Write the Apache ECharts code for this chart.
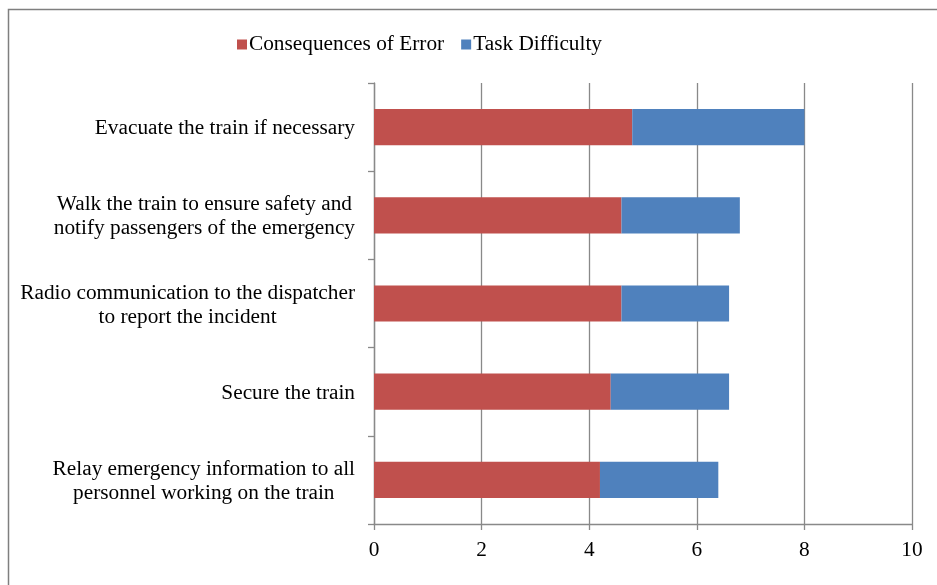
<!DOCTYPE html>
<html>
<head>
<meta charset="utf-8">
<script src="https://cdn.jsdelivr.net/npm/echarts@6/dist/echarts.min.js"></script>
<style>
  html, body { margin: 0; padding: 0; background: #ffffff; }
  #chart { width: 937px; height: 585px; }
</style>
</head>
<body>
<div id="chart"></div>
<script>
// Tasks, listed top to bottom
const tasks = [
  'Evacuate the train if necessary',
  'Walk the train to ensure safety and\nnotify passengers of the emergency',
  'Radio communication to the dispatcher\nto report the incident',
  'Secure the train',
  'Relay emergency information to all\npersonnel working on the train'
];
const consequencesOfError = [4.8, 4.6, 4.6, 4.4, 4.2];
const taskDifficulty = [3.2, 2.2, 2.0, 2.2, 2.2];
const xTicks = [0, 2, 4, 6, 8, 10];

const FONT = '"Liberation Serif", "Times New Roman", serif';
const FONT_SIZE = 21.3;
const AXIS_GRAY = '#898989';

const chart = echarts.init(document.getElementById('chart'), null, { renderer: 'canvas' });

chart.setOption({
  backgroundColor: '#ffffff',
  animation: false,
  graphic: [{
    type: 'rect',
    shape: { x: 8.5, y: 9.5, width: 1200, height: 1200 },
    style: { fill: 'none', stroke: '#7f7f7f', lineWidth: 1.5 },
    silent: true
  }],
  legend: {
    top: 29,
    left: 232,
    itemWidth: 10,
    itemHeight: 10,
    itemGap: 17,
    icon: 'rect',
    textStyle: { fontFamily: FONT, fontSize: FONT_SIZE, color: '#000000', padding: [0, 0, 0, -3] },
    data: ['Consequences of Error', 'Task Difficulty']
  },
  grid: { left: 374, right: 25, top: 83, bottom: 61, containLabel: false },
  xAxis: {
    type: 'value',
    min: xTicks[0],
    max: xTicks[xTicks.length - 1],
    interval: 2,
    axisLine: { show: true, lineStyle: { color: AXIS_GRAY, width: 1.3 } },
    axisTick: { show: true, length: 6, lineStyle: { color: AXIS_GRAY, width: 1.3 } },
    splitLine: { show: true, lineStyle: { color: AXIS_GRAY, width: 1.3 } },
    axisLabel: { fontFamily: FONT, fontSize: FONT_SIZE, color: '#000000', margin: 16 }
  },
  yAxis: {
    type: 'category',
    inverse: true,
    data: tasks,
    axisLine: { show: true, lineStyle: { color: AXIS_GRAY, width: 1.3 } },
    axisTick: { show: true, length: 6, alignWithLabel: false, lineStyle: { color: AXIS_GRAY, width: 1.3 } },
    axisLabel: {
      fontFamily: FONT,
      fontSize: FONT_SIZE,
      color: '#000000',
      margin: 19,
      lineHeight: 24,
      padding: [3, 0, 0, 0],
      align: 'right',
      formatter: function (v) {
        return v.split('\n').map(function (l) { return '{c|' + l + '}'; }).join('\n');
      },
      rich: { c: { align: 'center', fontFamily: FONT, fontSize: FONT_SIZE, lineHeight: 24, color: '#000000' } }
    }
  },
  series: [
    {
      name: 'Consequences of Error',
      type: 'bar',
      stack: 'total',
      barCategoryGap: '59%',
      itemStyle: { color: '#C0504D' },
      data: consequencesOfError
    },
    {
      name: 'Task Difficulty',
      type: 'bar',
      stack: 'total',
      barCategoryGap: '59%',
      itemStyle: { color: '#4F81BD' },
      data: taskDifficulty
    }
  ]
});
</script>
</body>
</html>
